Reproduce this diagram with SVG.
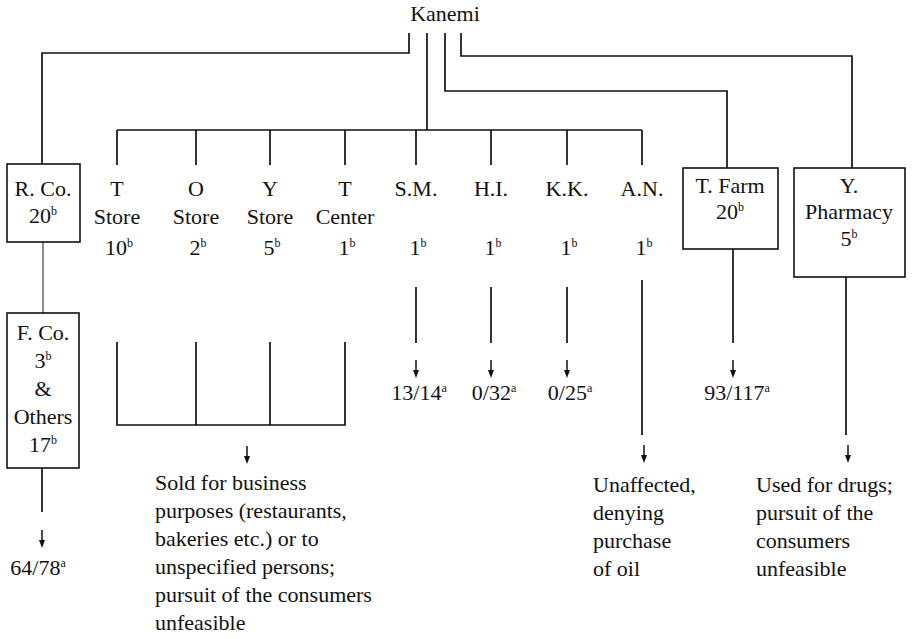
<svg xmlns="http://www.w3.org/2000/svg" width="919" height="639" viewBox="0 0 919 639">
<style>
.ln{stroke:#111;stroke-width:1.7;fill:none}
.thin{stroke:#444;stroke-width:1.2;fill:none}
.box{fill:#fff;stroke:#111;stroke-width:1.6}
.c{text-anchor:middle}
.s{font-size:12px}
</style>
<defs>
<g id="arr"><line x1="0" y1="0" x2="0" y2="13" stroke="#111" stroke-width="1.5"/><path d="M-3,10 L3,10 L0,18 Z" fill="#111"/></g>
</defs>
<rect width="919" height="639" fill="#fff"/>

<g id="connectors">
<path class="ln" d="M409,33 V53 H42 V164"/>
<path class="ln" d="M427,33 V130"/>
<path class="ln" d="M117,130 H642"/>
<path class="ln" d="M117,130 V165 M196,130 V165 M270,130 V165 M345,130 V165 M416,130 V165 M491,130 V165 M567,130 V165 M642,130 V165"/>
<path class="ln" d="M445,33 V91 H727 V168"/>
<path class="ln" d="M461,33 V56 H852 V168"/>
<path class="thin" d="M43,242 V313"/>
<path class="ln" d="M42,468 V512"/>
<path class="ln" d="M117,342 V425 H345 V342 M196,342 V425 M270,342 V425"/>
<path class="ln" d="M416,287 V343 M491,287 V343 M567,287 V343"/>
<path class="ln" d="M642,280 V435"/>
<path class="ln" d="M733,249 V343"/>
<path class="ln" d="M846,277 V435"/>
<use href="#arr" x="42" y="530"/>
<use href="#arr" x="247" y="446"/>
<use href="#arr" x="416" y="360"/>
<use href="#arr" x="491" y="360"/>
<use href="#arr" x="567" y="360"/>
<use href="#arr" x="733" y="360"/>
<use href="#arr" x="644" y="445"/>
<use href="#arr" x="848" y="445"/>
</g>

<g id="nodes" font-family="Liberation Serif" font-size="22" fill="#111">
<g id="kanemi"><text class="c" x="445" y="21">Kanemi</text></g>

<g id="rco">
<rect class="box" x="7" y="164" width="73" height="78"/>
<text class="c" x="43" y="196">R. Co.</text>
<text class="c" x="43" y="223">20<tspan class="s" dy="-8">b</tspan></text>
</g>

<g id="fco">
<rect class="box" x="7" y="313" width="72" height="155"/>
<text class="c" x="43" y="340">F. Co.</text>
<text class="c" x="43" y="368">3<tspan class="s" dy="-8">b</tspan></text>
<text class="c" x="43" y="396">&amp;</text>
<text class="c" x="43" y="424">Others</text>
<text class="c" x="43" y="452">17<tspan class="s" dy="-8">b</tspan></text>
</g>
<g id="fco-result"><text class="c" x="38" y="575">64/78<tspan class="s" dy="-8">a</tspan></text></g>

<g id="tstore">
<text class="c" x="117" y="196">T</text>
<text class="c" x="117" y="224">Store</text>
<text class="c" x="119" y="255">10<tspan class="s" dy="-8">b</tspan></text>
</g>
<g id="ostore">
<text class="c" x="196" y="196">O</text>
<text class="c" x="196" y="224">Store</text>
<text class="c" x="198" y="255">2<tspan class="s" dy="-8">b</tspan></text>
</g>
<g id="ystore">
<text class="c" x="270" y="196">Y</text>
<text class="c" x="270" y="224">Store</text>
<text class="c" x="272" y="255">5<tspan class="s" dy="-8">b</tspan></text>
</g>
<g id="tcenter">
<text class="c" x="345" y="196">T</text>
<text class="c" x="345" y="224">Center</text>
<text class="c" x="347" y="255">1<tspan class="s" dy="-8">b</tspan></text>
</g>
<g id="stores-result">
<text x="155" y="490">Sold for business</text>
<text x="155" y="518">purposes (restaurants,</text>
<text x="155" y="546">bakeries etc.) or to</text>
<text x="155" y="574">unspecified persons;</text>
<text x="155" y="602">pursuit of the consumers</text>
<text x="155" y="630">unfeasible</text>
</g>

<g id="sm">
<text class="c" x="416" y="196">S.M.</text>
<text class="c" x="418" y="255">1<tspan class="s" dy="-8">b</tspan></text>
<text class="c" x="419" y="400">13/14<tspan class="s" dy="-8">a</tspan></text>
</g>
<g id="hi">
<text class="c" x="491" y="196">H.I.</text>
<text class="c" x="493" y="255">1<tspan class="s" dy="-8">b</tspan></text>
<text class="c" x="494" y="400">0/32<tspan class="s" dy="-8">a</tspan></text>
</g>
<g id="kk">
<text class="c" x="567" y="196">K.K.</text>
<text class="c" x="569" y="255">1<tspan class="s" dy="-8">b</tspan></text>
<text class="c" x="570" y="400">0/25<tspan class="s" dy="-8">a</tspan></text>
</g>
<g id="an">
<text class="c" x="642" y="196">A.N.</text>
<text class="c" x="644" y="255">1<tspan class="s" dy="-8">b</tspan></text>
<text x="593" y="492">Unaffected,</text>
<text x="593" y="520">denying</text>
<text x="593" y="548">purchase</text>
<text x="593" y="576">of oil</text>
</g>

<g id="tfarm">
<rect class="box" x="683" y="168" width="95" height="81"/>
<text class="c" x="730" y="193">T. Farm</text>
<text class="c" x="730" y="219">20<tspan class="s" dy="-8">b</tspan></text>
<text class="c" x="737" y="400">93/117<tspan class="s" dy="-8">a</tspan></text>
</g>

<g id="ypharmacy">
<rect class="box" x="794" y="168" width="111" height="109"/>
<text class="c" x="849" y="193">Y.</text>
<text class="c" x="849" y="219">Pharmacy</text>
<text class="c" x="849" y="246">5<tspan class="s" dy="-8">b</tspan></text>
<text x="756" y="492">Used for drugs;</text>
<text x="756" y="520">pursuit of the</text>
<text x="756" y="548">consumers</text>
<text x="756" y="576">unfeasible</text>
</g>
</g>
</svg>
